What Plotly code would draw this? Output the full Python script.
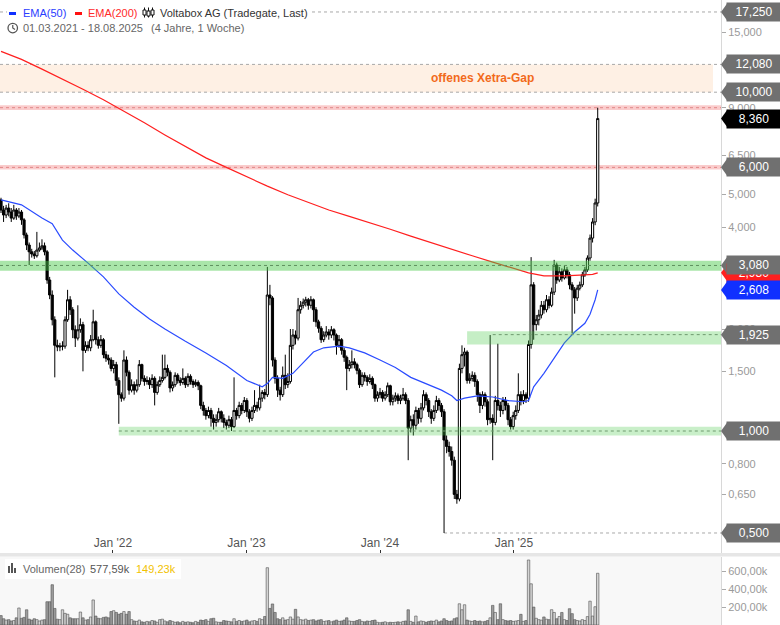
import numpy as np
import pandas as pd
import plotly.graph_objects as go

FONT = "Liberation Sans, Arial, sans-serif"
W, H = 780, 625
PLOT_W = 721

# ---------------- data (weekly candles) ----------------
dates = pd.date_range("2021-03-01", periods=234, freq="7D")
first_open = 4.81
close = [
    4.49, 4.34, 4.55, 4.43, 4.25, 4.49, 4.31, 4.43, 4.20, 3.79,
    3.54, 3.38, 3.33, 3.29, 3.42, 3.47, 3.52, 3.38, 2.79, 2.52,
    2.13, 1.79, 1.77, 1.78, 1.78, 2.13, 2.44, 2.28, 1.99, 1.88,
    1.99, 2.06, 1.73, 1.79, 1.76, 1.86, 2.10, 1.86, 1.79, 1.86,
    1.68, 1.64, 1.62, 1.53, 1.57, 1.41, 1.28, 1.25, 1.62, 1.49,
    1.32, 1.37, 1.32, 1.37, 1.57, 1.43, 1.40, 1.41, 1.37, 1.43,
    1.30, 1.37, 1.41, 1.44, 1.53, 1.49, 1.34, 1.37, 1.46, 1.41,
    1.39, 1.43, 1.37, 1.45, 1.40, 1.37, 1.39, 1.36, 1.19, 1.15,
    1.11, 1.15, 1.09, 1.06, 1.08, 1.14, 1.09, 1.06, 1.04, 1.08,
    1.03, 1.15, 1.11, 1.19, 1.15, 1.23, 1.14, 1.09, 1.15, 1.19,
    1.17, 1.25, 1.30, 1.28, 2.52, 2.47, 1.62, 1.43, 1.32, 1.28,
    1.46, 1.37, 1.40, 1.79, 1.92, 1.88, 2.28, 2.35, 2.40, 2.44,
    2.35, 2.44, 2.28, 2.10, 2.01, 1.86, 1.92, 1.96, 1.92, 1.99,
    1.92, 1.79, 1.86, 1.73, 1.65, 1.53, 1.57, 1.60, 1.57, 1.51,
    1.37, 1.46, 1.44, 1.40, 1.43, 1.37, 1.25, 1.28, 1.30, 1.25,
    1.28, 1.36, 1.22, 1.25, 1.27, 1.23, 1.25, 1.28, 1.23, 1.02,
    1.08, 1.04, 1.15, 1.09, 1.17, 1.28, 1.23, 1.14, 1.09, 1.15,
    1.23, 1.19, 1.14, 0.94, 0.90, 0.87, 0.82, 0.65, 0.63, 1.53,
    1.68, 1.71, 1.41, 1.43, 1.46, 1.40, 1.28, 1.19, 1.28, 1.22,
    1.08, 1.09, 1.06, 1.23, 1.19, 1.15, 1.23, 1.19, 1.08, 1.03,
    1.11, 1.15, 1.28, 1.23, 1.28, 1.25, 1.80, 2.70, 2.06, 2.13,
    2.20, 2.35, 2.28, 2.44, 2.35, 2.57, 3.09, 2.79, 2.95, 2.83,
    2.99, 2.89, 2.70, 2.61, 2.47, 2.64, 2.70, 2.89, 2.99, 3.24,
    3.71, 4.14, 4.71, 8.36]
high = [
    4.88, 4.62, 4.65, 4.70, 4.55, 4.65, 4.55, 4.55, 4.49, 4.25,
    3.85, 3.60, 3.45, 3.40, 3.87, 3.60, 3.68, 3.60, 3.42, 2.85,
    2.60, 2.18, 1.86, 1.82, 1.84, 2.18, 2.61, 2.50, 2.32, 2.05,
    2.35, 2.15, 2.10, 1.84, 1.84, 1.92, 2.28, 2.12, 1.90, 1.92,
    1.88, 1.72, 1.68, 1.65, 1.62, 1.60, 1.44, 1.30, 1.73, 1.66,
    1.51, 1.42, 1.40, 1.42, 1.62, 1.58, 1.46, 1.45, 1.44, 1.47,
    1.45, 1.40, 1.45, 1.68, 1.68, 1.57, 1.51, 1.40, 1.49, 1.48,
    1.44, 1.53, 1.45, 1.48, 1.47, 1.42, 1.42, 1.41, 1.37, 1.22,
    1.17, 1.18, 1.17, 1.12, 1.12, 1.17, 1.15, 1.12, 1.08, 1.11,
    1.10, 1.44, 1.17, 1.22, 1.21, 1.26, 1.25, 1.16, 1.18, 1.32,
    1.22, 1.37, 1.32, 1.33, 3.05, 2.70, 2.50, 1.65, 1.46, 1.35,
    1.55, 1.68, 1.48, 2.00, 2.00, 1.98, 2.47, 2.42, 2.46, 2.49,
    2.47, 2.50, 2.46, 2.32, 2.13, 2.04, 1.97, 2.04, 2.00, 2.04,
    2.01, 1.94, 1.92, 1.88, 1.76, 1.67, 1.62, 1.73, 1.64, 1.59,
    1.53, 1.49, 1.49, 1.46, 1.47, 1.45, 1.38, 1.31, 1.34, 1.32,
    1.31, 1.39, 1.37, 1.28, 1.30, 1.29, 1.28, 1.34, 1.30, 1.25,
    1.11, 1.12, 1.18, 1.17, 1.21, 1.32, 1.30, 1.25, 1.16, 1.19,
    1.27, 1.25, 1.21, 1.16, 0.97, 0.93, 0.90, 0.84, 0.67, 1.58,
    1.79, 1.76, 1.73, 1.48, 1.50, 1.49, 1.42, 1.30, 1.31, 1.30,
    1.24, 1.92, 1.12, 1.27, 1.81, 1.22, 1.26, 1.26, 1.21, 1.10,
    1.14, 1.19, 1.48, 1.31, 1.32, 1.30, 1.85, 3.26, 2.75, 2.20,
    2.28, 2.42, 2.42, 2.52, 2.50, 2.65, 3.20, 3.14, 3.05, 3.02,
    3.08, 3.05, 2.95, 2.75, 2.66, 2.70, 2.76, 2.95, 3.05, 3.30,
    3.80, 4.25, 4.85, 9.00]
low = [
    4.40, 4.14, 4.25, 4.30, 4.14, 4.20, 4.20, 4.25, 4.06, 3.70,
    3.42, 3.09, 3.25, 3.22, 3.25, 3.38, 3.42, 3.30, 2.72, 2.45,
    2.05, 1.44, 1.72, 1.72, 1.73, 1.75, 2.10, 2.20, 1.88, 1.77,
    1.85, 1.95, 1.50, 1.70, 1.72, 1.72, 1.84, 1.80, 1.75, 1.76,
    1.64, 1.60, 1.57, 1.50, 1.48, 1.36, 1.05, 1.22, 1.23, 1.45,
    1.28, 1.30, 1.28, 1.30, 1.35, 1.40, 1.36, 1.37, 1.33, 1.34,
    1.19, 1.28, 1.35, 1.39, 1.42, 1.45, 1.30, 1.31, 1.35, 1.38,
    1.36, 1.37, 1.34, 1.35, 1.37, 1.34, 1.35, 1.32, 1.16, 1.11,
    1.08, 1.09, 1.03, 1.01, 1.03, 1.06, 1.06, 1.02, 1.01, 1.02,
    1.00, 1.02, 1.08, 1.09, 1.12, 1.13, 1.10, 1.06, 1.07, 1.13,
    1.14, 1.15, 1.22, 1.24, 1.26, 2.35, 1.55, 1.38, 1.26, 1.23,
    1.26, 1.33, 1.34, 1.38, 1.74, 1.80, 1.85, 2.22, 2.30, 2.33,
    2.28, 2.30, 2.10, 2.03, 1.95, 1.82, 1.83, 1.89, 1.86, 1.88,
    1.85, 1.68, 1.76, 1.68, 1.60, 1.32, 1.50, 1.53, 1.53, 1.47,
    1.34, 1.35, 1.40, 1.36, 1.38, 1.33, 1.22, 1.22, 1.25, 1.22,
    1.23, 1.26, 1.19, 1.19, 1.22, 1.20, 1.20, 1.23, 1.20, 0.82,
    0.99, 0.97, 1.01, 1.05, 1.06, 1.15, 1.19, 1.10, 1.05, 1.07,
    1.13, 1.15, 1.10, 0.50, 0.86, 0.84, 0.79, 0.63, 0.61, 0.62,
    1.48, 1.55, 1.38, 1.38, 1.40, 1.35, 1.22, 1.13, 1.16, 1.18,
    1.04, 1.05, 0.82, 1.04, 1.15, 1.10, 1.12, 1.15, 1.04, 1.01,
    1.01, 1.08, 1.13, 1.19, 1.20, 1.21, 1.22, 1.75, 1.86, 1.98,
    2.05, 2.15, 2.22, 2.24, 2.30, 2.32, 2.52, 2.72, 2.75, 2.76,
    2.80, 2.82, 2.62, 1.94, 2.22, 2.42, 2.60, 2.66, 2.85, 2.95,
    3.18, 3.60, 4.05, 4.60]
open_ = [first_open] + close[:-1]

volume_k = [
    105, 70, 55, 60, 45, 50, 80, 190, 75, 85,
    170, 65, 55, 70, 60, 45, 55, 60, 260, 260,
    450, 185, 65, 60, 170, 130, 120, 80, 70, 70,
    70, 145, 80, 55, 60, 90, 280, 100, 75, 70,
    85, 90, 80, 150, 160, 140, 120, 130, 150, 120,
    150, 60, 45, 40, 55, 35, 30, 40, 35, 50,
    45, 30, 60, 65, 45, 35, 50, 40, 30, 35,
    25, 40, 30, 35, 30, 25, 40, 30, 55, 50,
    60, 40, 70, 75, 35, 30, 30, 50, 45, 40,
    35, 70, 40, 50, 40, 45, 55, 35, 45, 50,
    40, 70, 60, 95, 640, 185, 235, 140, 70, 60,
    80, 55, 60, 90, 65, 175, 90, 60, 55, 65,
    50, 55, 60, 45, 55, 60, 40, 45, 50, 35,
    45, 55, 40, 45, 55, 80, 45, 40, 40, 50,
    60, 40, 35, 45, 40, 50, 55, 30, 25, 30,
    35, 25, 30, 28, 30, 35, 30, 40, 45, 170,
    40, 30, 100, 35, 45, 40, 30, 40, 45, 40,
    55, 35, 45, 70, 50, 40, 45, 70, 80, 237,
    170, 226, 55, 45, 40, 50, 40, 45, 35, 40,
    50, 80, 219, 140, 60, 237, 60, 50, 45, 50,
    40, 45, 50, 119, 40, 50, 726, 460, 200, 75,
    60, 55, 90, 65, 60, 171, 140, 70, 95, 140,
    60, 50, 182, 127, 60, 50, 45, 60, 50, 94,
    266, 100, 204, 577.59]

ema50_week = [0, 8, 16, 20, 24, 28, 34, 40, 46, 52, 58, 64, 72, 80, 88, 96, 102, 104, 106, 110,
              114, 118, 122, 126, 132, 136, 142, 148, 154, 160, 166, 172, 176, 178, 181, 186, 192, 198, 204, 206,
              208, 212, 216, 220, 224, 228, 230, 232, 233]
ema50_val = [4.81, 4.65, 4.25, 4.09, 3.66, 3.42, 3.13, 2.85, 2.54, 2.32, 2.14, 2.00, 1.84, 1.70, 1.56, 1.41, 1.35, 1.38, 1.44, 1.43,
             1.48, 1.59, 1.71, 1.76, 1.78, 1.76, 1.70, 1.62, 1.54, 1.44, 1.38, 1.32, 1.27, 1.23, 1.25, 1.27, 1.26, 1.23, 1.22, 1.23,
             1.35, 1.48, 1.64, 1.82, 1.96, 2.08, 2.21, 2.44, 2.608]
ema200_week = [0, 8, 16, 24, 32, 40, 48, 56, 64, 72, 80, 88, 96, 104, 112, 120, 128, 136, 144, 152,
               160, 168, 176, 184, 192, 200, 206, 212, 220, 228, 231, 233]
ema200_val = [13.2, 12.5, 11.7, 10.95, 10.2, 9.5, 8.8, 8.12, 7.48, 6.9, 6.4, 6.0, 5.62, 5.28, 4.98, 4.72, 4.49, 4.30, 4.12, 3.94,
              3.76, 3.59, 3.44, 3.29, 3.15, 3.03, 2.93, 2.87, 2.87, 2.89, 2.90, 2.93]

# levels / zones
top_level = 17.25
gap_low, gap_high = 10.0, 12.08
red_levels = [9.0, 6.0]
zone_3080 = (2.97, 3.18, 3.08)
zone_1925 = (1.80, 1.97, 1.925)
zone_1000 = (0.97, 1.03, 1.0)
low_level = 0.5

x_range = ["2021-02-26 06:00", "2026-07-21"]
x_ticks = ["2022-01-01", "2023-01-01", "2024-01-01", "2025-01-01"]
x_ticktext = ["Jan '22", "Jan '23", "Jan '24", "Jan '25"]
y_ticks = [0.65, 0.8, 1.5, 2.0, 4.0, 5.0, 6.5, 9.0, 15.0]
y_ticktext = ["0,650", "0,800", "1,500", "2,000", "4,000", "5,000", "6,500", "9,000", "15,000"]
vol_ticks = [200000, 400000, 600000]
vol_ticktext = ["200,00k", "400,00k", "600,00k"]

def fmt(v):
    return f"{v:.3f}".replace(".", ",")

def px(x):
    return x / PLOT_W

def py(y):
    return 1 - y / H

MAIN_BOTTOM = 553  # pixel row of the price pane's bottom edge
# log range: 431px <-> 1.0, 338.8 px per decade
y_lo = (431 - MAIN_BOTTOM) / 338.8
y_hi = 431 / 338.8

# ---------------- traces ----------------
fig = go.Figure()
fig.add_trace(go.Candlestick(
    x=dates, open=open_, high=high, low=low, close=close,
    increasing=dict(line=dict(color="black", width=1), fillcolor="white"),
    decreasing=dict(line=dict(color="black", width=1), fillcolor="black"),
    whiskerwidth=0, xaxis="x", yaxis="y", showlegend=False, hoverinfo="skip"))
fig.add_trace(go.Scatter(x=[dates[i] for i in ema200_week], y=ema200_val, mode="lines",
                         line=dict(color="#ff1f1f", width=1.2), xaxis="x", yaxis="y",
                         showlegend=False, hoverinfo="skip"))
fig.add_trace(go.Scatter(x=[dates[i] for i in ema50_week], y=ema50_val, mode="lines",
                         line=dict(color="#2a4bff", width=1.2), xaxis="x", yaxis="y",
                         showlegend=False, hoverinfo="skip"))
vol_colors = ["#d4d4d4" if c >= o else "#9e9e9e" for o, c in zip(open_, close)]
fig.add_trace(go.Bar(x=dates, y=[v * 1000 for v in volume_k],
                     marker=dict(color=vol_colors, line=dict(color="#505050", width=0.6)),
                     width=7 * 86400000 * 0.95, xaxis="x2", yaxis="y2",
                     showlegend=False, hoverinfo="skip"))

shapes = []
# volume pane background + separator
shapes.append(dict(type="rect", xref="paper", yref="y2 domain", x0=0, x1=1, y0=0, y1=1,
                   fillcolor="#f8f8f8", line=dict(width=0), layer="below"))
shapes.append(dict(type="rect", xref="paper", yref="paper", x0=0, x1=W / PLOT_W, y0=py(556.5), y1=py(553),
                   fillcolor="#e6e6e6", line=dict(width=0), layer="above"))
# gap zone
shapes.append(dict(type="rect", xref="paper", yref="y", x0=0, x1=px(713), y0=gap_low, y1=gap_high,
                   fillcolor="#fef0e4", line=dict(width=0), layer="below"))
for lv in [top_level, gap_high, gap_low]:
    shapes.append(dict(type="line", xref="paper", yref="y", x0=0, x1=1, y0=lv, y1=lv,
                       line=dict(color="#a8a8a8", width=1, dash="dot"), layer="below"))
# red levels
for lv in red_levels:
    shapes.append(dict(type="rect", xref="paper", yref="y", x0=0, x1=1, y0=lv * 0.985, y1=lv * 1.017,
                       fillcolor="rgba(240,110,110,0.35)", line=dict(width=0), layer="below"))
    shapes.append(dict(type="line", xref="paper", yref="y", x0=0, x1=1, y0=lv, y1=lv,
                       line=dict(color="#e08585", width=1, dash="dot"), layer="below"))
# green zones
shapes.append(dict(type="rect", xref="paper", yref="y", x0=0, x1=1, y0=zone_3080[0], y1=zone_3080[1],
                   fillcolor="rgba(76,201,76,0.48)", line=dict(width=0), layer="above"))
shapes.append(dict(type="line", xref="paper", yref="y", x0=0, x1=1, y0=zone_3080[2], y1=zone_3080[2],
                   line=dict(color="#5f8f5f", width=1, dash="dot"), layer="above"))
shapes.append(dict(type="rect", xref="x", yref="y", x0=dates[182], x1=x_range[1], y0=zone_1925[0], y1=zone_1925[1],
                   fillcolor="rgba(76,201,76,0.32)", line=dict(width=0), layer="above"))
shapes.append(dict(type="line", xref="x", yref="y", x0=dates[192], x1=x_range[1], y0=zone_1925[2], y1=zone_1925[2],
                   line=dict(color="#6f9a6f", width=1, dash="dot"), layer="above"))
shapes.append(dict(type="rect", xref="x", yref="y", x0=dates[46], x1=x_range[1], y0=zone_1000[0], y1=zone_1000[1],
                   fillcolor="rgba(76,201,76,0.30)", line=dict(width=0), layer="above"))
shapes.append(dict(type="line", xref="x", yref="y", x0=dates[46], x1=x_range[1], y0=zone_1000[2], y1=zone_1000[2],
                   line=dict(color="#6f9a6f", width=1, dash="dot"), layer="above"))
shapes.append(dict(type="line", xref="x", yref="y", x0=dates[173], x1=x_range[1], y0=low_level, y1=low_level,
                   line=dict(color="#a8a8a8", width=1, dash="dot"), layer="below"))

annotations = []
# right-side value labels
GRAY = "#707070"
labels = [
    (top_level, GRAY), (gap_high, GRAY), (gap_low, GRAY), (close[-1], "#000000"),
    (6.0, GRAY), (ema200_val[-1], "#ff1f1f"), (zone_3080[2], GRAY), (ema50_val[-1], "#1030ff"),
    (zone_1925[2], GRAY), (zone_1000[2], GRAY), (low_level, GRAY),
]
for v, col in labels:
    shapes.append(dict(type="path", xref="paper", yref="y", xsizemode="pixel", ysizemode="pixel",
                       xanchor=1, yanchor=v, path="M 0,0 L 6.5,9 L 6.5,-9 Z",
                       fillcolor=col, line=dict(width=0), layer="above"))
    annotations.append(dict(x=px(726), xref="paper", xanchor="left", y=np.log10(v), yref="y", yanchor="middle",
                            text=fmt(v), showarrow=False, bgcolor=col, width=54, height=18, borderpad=0,
                            align="center", font=dict(color="white", size=12, family=FONT)))

# gap text
annotations.append(dict(x=px(482.5), xref="paper", xanchor="center",
                        y=np.log10(np.sqrt(gap_low * gap_high)), yref="y", yanchor="middle",
                        text="<b>offenes Xetra-Gap</b>", showarrow=False,
                        font=dict(color="#f26a1b", size=12, family=FONT)))

# header legend
shapes.append(dict(type="rect", xref="paper", yref="paper", x0=px(7), x1=px(310), y0=py(21), y1=py(4),
                   fillcolor="white", line=dict(width=0), layer="above"))
shapes.append(dict(type="rect", xref="paper", yref="paper", x0=px(9), x1=px(16), y0=py(15), y1=py(12),
                   fillcolor="#1030ff", line=dict(width=0), layer="above"))
shapes.append(dict(type="rect", xref="paper", yref="paper", x0=px(75), x1=px(82), y0=py(15), y1=py(12),
                   fillcolor="#ff1010", line=dict(width=0), layer="above"))
for cx, b0, b1 in [(144.5, 10, 15), (148.5, 11, 16), (152.5, 10, 15)]:
    shapes.append(dict(type="line", xref="paper", yref="paper", x0=px(cx), x1=px(cx), y0=py(7.5), y1=py(17.5),
                       line=dict(color="#111", width=1), layer="above"))
    shapes.append(dict(type="rect", xref="paper", yref="paper", x0=px(cx - 1.5), x1=px(cx + 1.5), y0=py(b1), y1=py(b0),
                       fillcolor="white", line=dict(color="#111", width=1), layer="above"))
# clock icon
shapes.append(dict(type="circle", xref="paper", yref="paper", x0=px(8), x1=px(17.5), y0=py(32.8), y1=py(23.3),
                   line=dict(color="#555", width=1.3), fillcolor="rgba(0,0,0,0)", layer="above"))
shapes.append(dict(type="path", xref="paper", yref="paper",
                   path=f"M {px(12.75)},{py(25)} L {px(12.75)},{py(28)} L {px(15)},{py(29.5)}",
                   line=dict(color="#555", width=1.2), layer="above"))

def txt(x, y, s, color, size=11):
    annotations.append(dict(x=px(x), xref="paper", xanchor="left", y=py(y), yref="paper", yanchor="middle",
                            text=s, showarrow=False, font=dict(color=color, size=size, family=FONT)))

txt(21, 13, "EMA(50)", "#2a3cff")
txt(86, 13, "EMA(200)", "#ff2a2a")
txt(158, 13, "Voltabox AG (Tradegate, Last)", "#333333")
txt(21, 28.5, "01.03.2021 - 18.08.2025", "#666666")
txt(149, 28.5, "(4 Jahre, 1 Woche)", "#666666")

# volume legend
shapes.append(dict(type="rect", xref="paper", yref="paper", x0=px(5), x1=px(181), y0=py(579), y1=py(559),
                   fillcolor="white", line=dict(width=0), layer="above"))
for bx0, bx1, top in [(8, 10, 566), (11, 13, 563), (14, 16, 568)]:
    shapes.append(dict(type="rect", xref="paper", yref="paper", x0=px(bx0), x1=px(bx1), y0=py(573), y1=py(top),
                       fillcolor="#555", line=dict(width=0), layer="above"))
txt(21, 569, "Volumen(28)", "#666666")
txt(88, 569, "577,59k", "#555555")
txt(134, 569, "149,23k", "#f2c200")

fig.update_layout(
    width=W, height=H, margin=dict(l=0, r=W - PLOT_W, t=0, b=0, pad=0),
    paper_bgcolor="white", plot_bgcolor="white", showlegend=False,
    font=dict(family=FONT, size=12), bargap=0.05, boxgap=0.15, boxgroupgap=0,
    shapes=shapes, annotations=annotations,
    xaxis=dict(domain=[0, 1], anchor="y", type="date", range=x_range, showgrid=False, zeroline=False,
               tickvals=x_ticks, ticktext=x_ticktext, ticks="inside", ticklen=3, tickcolor="#333",
               ticklabelposition="inside", tickfont=dict(size=12, color="#555", family=FONT),
               rangeslider=dict(visible=False), showline=False, automargin=False),
    xaxis2=dict(domain=[0, 1], anchor="y2", matches="x", showticklabels=False, ticks="",
                showgrid=False, zeroline=False, showline=False, automargin=False),
    yaxis=dict(domain=[1 - MAIN_BOTTOM / H, 1], type="log", range=[y_lo, y_hi], side="right",
               tickvals=y_ticks, ticktext=y_ticktext, ticks="outside", ticklen=4, tickcolor="#aaa",
               tickfont=dict(size=11, color="#9a9a9a", family=FONT), showline=True, linecolor="#d8d8d8",
               showgrid=False, zeroline=False, automargin=False),
    yaxis2=dict(domain=[0, 1 - 556.5 / H], range=[0, 765000], side="right",
                tickvals=vol_ticks, ticktext=vol_ticktext, ticks="outside", ticklen=4, tickcolor="#aaa",
                tickfont=dict(size=11, color="#9a9a9a", family=FONT), showline=True, linecolor="#d8d8d8",
                showgrid=False, zeroline=False, automargin=False),
)

fig.write_html("out.html", config={"displayModeBar": False},
               post_script="document.body.style.margin='0';document.body.style.padding='0';"
                           "document.body.style.overflow='hidden';")
